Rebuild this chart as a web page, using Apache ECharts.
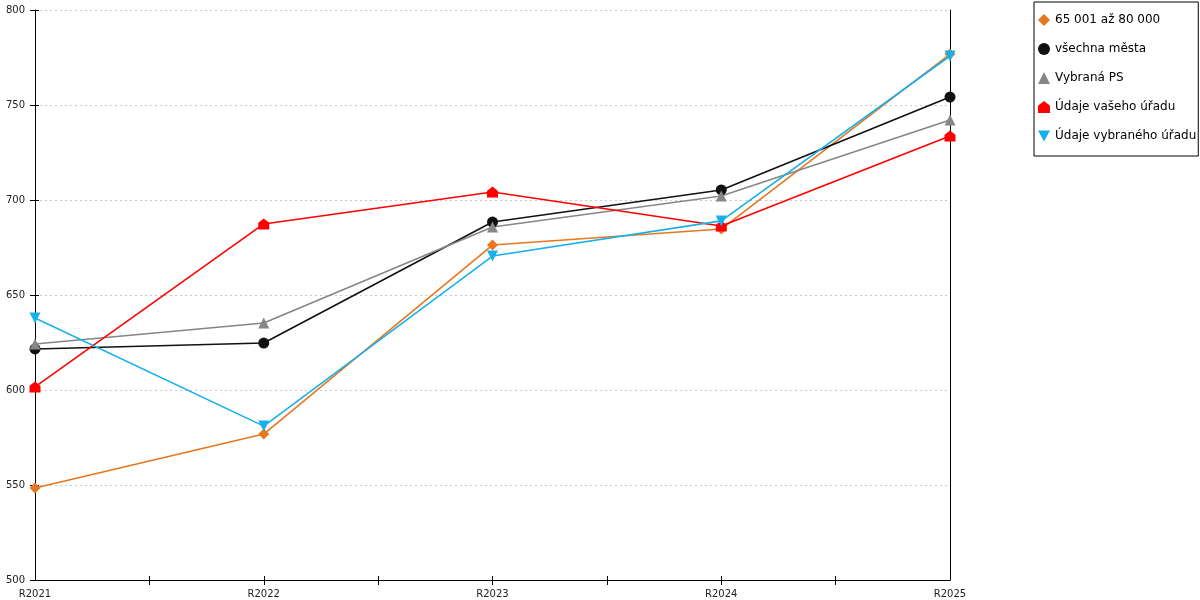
<!DOCTYPE html>
<html>
<head>
<meta charset="utf-8">
<script src="https://cdn.jsdelivr.net/npm/echarts@6/dist/echarts.min.js"></script>
<style>
html, body { margin: 0; padding: 0; background: #fff; }
#chart { width: 1200px; height: 600px; }
</style>
</head>
<body>
<div id="chart"></div>
<script>
var myChart = echarts.init(document.getElementById('chart'));

var years = ['R2021', 'R2022', 'R2023', 'R2024', 'R2025'];

var skupina = [548.4, 576.8, 676.3, 684.7, 776.8];   // 65 001 až 80 000
var vsechnaMesta = [621.6, 624.7, 688.4, 705.3, 754.2];
var vybranaPS = [624.2, 635.3, 685.8, 702.1, 742.1];
var vasUrad = [601.6, 687.4, 704.2, 686.3, 733.7];
var vybranyUrad = [637.9, 581.0, 670.5, 689.0, 775.8];

var houseIcon = 'path://M5,0 L10,4 L10,10 L0,10 L0,4 Z';
var downIcon = 'path://M0,0 L10,0 L5,9 Z';

// values are placed at 0..4 on a value axis so ticks can sit halfway between years
var toPoints = function (arr) {
    return arr.map(function (v, i) { return [i, v]; });
};

var makeLine = function (name, arr, color, symbol, size) {
    return {
        name: name,
        type: 'line',
        data: toPoints(arr),
        symbol: symbol,
        symbolSize: size,
        showSymbol: true,
        lineStyle: { color: color, width: 1.6 },
        itemStyle: { color: color },
        emphasis: { disabled: true }
    };
};

var tickSpots = [0.5, 1, 1.5, 2, 2.5, 3, 3.5];
var hiddenLine = { show: true, lineStyle: { color: 'rgba(0,0,0,0)', width: 1 } };
var yBase = { type: 'value', min: 500, max: 800, interval: 50 };

option = {
    animation: false,
    textStyle: { fontFamily: 'DejaVu Sans' },
    grid: { left: 35, right: 250, top: 10, bottom: 20 },
    legend: {
        orient: 'vertical',
        left: 1034,
        top: 2,
        padding: [12, 2, 14, 4],
        itemGap: 17,
        itemWidth: 12,
        itemHeight: 12,
        borderColor: '#000',
        borderWidth: 1,
        textStyle: { fontSize: 12, color: '#000', fontFamily: 'DejaVu Sans' },
        data: [
            { name: '65 001 až 80 000', icon: 'diamond' },
            { name: 'všechna města', icon: 'circle' },
            { name: 'Vybraná PS', icon: 'triangle' },
            { name: 'Údaje vašeho úřadu', icon: houseIcon },
            { name: 'Údaje vybraného úřadu', icon: downIcon }
        ]
    },
    xAxis: [
        {
            type: 'value',
            min: 0,
            max: 4,
            interval: 0.5,
            axisLine: { show: true, lineStyle: { color: '#000', width: 1 } },
            axisTick: { show: true, length: 5, lineStyle: { color: '#000' }, customValues: tickSpots },
            axisLabel: {
                color: '#222', fontSize: 10, margin: 9,
                customValues: [0, 1, 2, 3, 4],
                formatter: function (v) { return years[v]; }
            },
            splitLine: { show: false }
        },
        {
            type: 'value',
            min: 0,
            max: 4,
            interval: 0.5,
            position: 'bottom',
            axisLine: hiddenLine,
            axisTick: { show: true, inside: true, length: 4, lineStyle: { color: '#000' }, customValues: tickSpots },
            axisLabel: { show: false },
            splitLine: { show: false }
        }
    ],
    yAxis: [
        Object.assign({}, yBase, {
            position: 'left',
            axisLine: { show: true, lineStyle: { color: '#000', width: 1 } },
            axisTick: { show: true, length: 5, lineStyle: { color: '#000' } },
            axisLabel: { color: '#222', fontSize: 10, margin: 10 },
            splitLine: { show: true, lineStyle: { color: '#c8c8c8', type: [2, 3], width: 1 } }
        }),
        Object.assign({}, yBase, {
            position: 'left',
            axisLine: hiddenLine,
            axisTick: { show: true, inside: true, length: 4, lineStyle: { color: '#000' } },
            axisLabel: { show: false },
            splitLine: { show: false }
        }),
        Object.assign({}, yBase, {
            position: 'right',
            axisLine: { show: true, lineStyle: { color: '#000', width: 1 } },
            axisTick: { show: false },
            axisLabel: { show: false },
            splitLine: { show: false }
        })
    ],
    series: [
        makeLine('65 001 až 80 000', skupina, '#e8761f', 'diamond', 11),
        makeLine('všechna města', vsechnaMesta, '#111111', 'circle', 11),
        makeLine('Vybraná PS', vybranaPS, '#868686', 'triangle', 11),
        makeLine('Údaje vašeho úřadu', vasUrad, '#ff0000', houseIcon, 11),
        makeLine('Údaje vybraného úřadu', vybranyUrad, '#17b1ea', downIcon, 11)
    ]
};

myChart.setOption(option);
</script>
</body>
</html>
